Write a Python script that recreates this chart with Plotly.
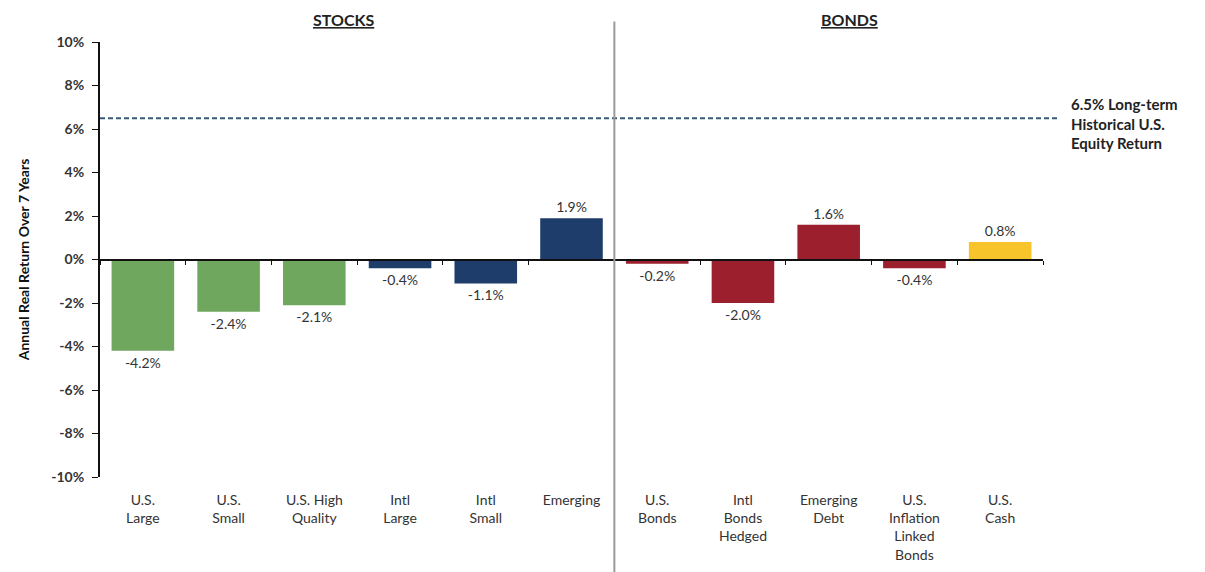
import plotly.graph_objects as go

# Asset classes and their projected annual real returns (%)
categories = [
    "U.S.<br>Large", "U.S.<br>Small", "U.S. High<br>Quality", "Intl<br>Large",
    "Intl<br>Small", "Emerging", "U.S.<br>Bonds", "Intl<br>Bonds<br>Hedged",
    "Emerging<br>Debt", "U.S.<br>Inflation<br>Linked<br>Bonds", "U.S.<br>Cash",
]
returns = [-4.2, -2.4, -2.1, -0.4, -1.1, 1.9, -0.2, -2.0, 1.6, -0.4, 0.8]
groups = ["us_eq", "us_eq", "us_eq", "intl_eq", "intl_eq", "intl_eq",
          "bond", "bond", "bond", "bond", "cash"]
benchmark = 6.5
benchmark_label = "6.5% Long-term<br>Historical U.S.<br>Equity Return"
y_ticks = [-10, -8, -6, -4, -2, 0, 2, 4, 6, 8, 10]

palette = {"us_eq": "#6fa75f", "intl_eq": "#1f3d6b", "bond": "#9b1f2c", "cash": "#f8c42c"}
FONT = "Lato, 'Open Sans', sans-serif"
TXT = "#333333"

x_idx = list(range(len(categories)))

fig = go.Figure()
fig.add_trace(go.Bar(
    x=x_idx,
    y=returns,
    marker=dict(color=[palette[g] for g in groups], line=dict(width=0)),
    width=0.73,
    text=[f"{v:.1f}%" for v in returns],
    textposition="outside",
    textfont=dict(family=FONT, size=14, color=TXT),
    cliponaxis=False,
    showlegend=False,
))

# Invisible helper trace on a second x axis that draws the zero line with boundary ticks
fig.add_trace(go.Scatter(x=categories, y=[None] * len(categories), xaxis="x2",
                         showlegend=False, hoverinfo="skip"))

fig.update_layout(
    width=1205, height=572,
    margin=dict(l=100, r=162, t=42, b=95),
    paper_bgcolor="white", plot_bgcolor="white",
    font=dict(family=FONT, color=TXT),
    bargap=0.27,
    xaxis=dict(
        tickmode="array", tickvals=x_idx, ticktext=categories,
        range=[-0.5, len(categories) - 0.5],
        showgrid=False, zeroline=False, showline=False, ticks="",
        tickfont=dict(family=FONT, size=14, color=TXT),
        ticklabelstandoff=13, automargin=False,
    ),
    xaxis2=dict(
        type="category", overlaying="x", anchor="free", position=0.5,
        range=[-0.5, len(categories) - 0.5],
        showline=True, linecolor="#111111", linewidth=2,
        ticks="outside", tickson="boundaries", ticklen=4, tickcolor="#111111",
        showticklabels=False, showgrid=False, zeroline=False, automargin=False,
    ),
    yaxis=dict(
        range=[-10, 10], tickvals=y_ticks,
        ticktext=[f"{v}%" for v in y_ticks],
        showgrid=False, zeroline=False,
        showline=True, linecolor="#111111", linewidth=2,
        ticks="outside", ticklen=6, tickcolor="#111111",
        ticklabelstandoff=5, automargin=False,
        tickfont=dict(family=FONT, size=14, color=TXT, weight="bold"),
        title=dict(text="<b>Annual Real Return Over 7 Years</b>",
                   font=dict(family=FONT, size=14, color="#111111"), standoff=18),
    ),
)

# Long-term equity benchmark
fig.add_shape(type="line", xref="paper", yref="y", x0=0, x1=1.015,
              y0=benchmark, y1=benchmark,
              line=dict(color="#3a5878", width=2, dash="5px,3px"))
fig.add_annotation(xref="paper", yref="y", x=1.028, y=benchmark + 1.15,
                   xanchor="left", yanchor="top", align="left", showarrow=False,
                   text=f"<b>{benchmark_label}</b>",
                   font=dict(family=FONT, size=15, color="#222222"))

# Divider between stocks and bonds
fig.add_shape(type="line", xref="x", yref="paper", x0=5.5, x1=5.5, y0=-0.22, y1=1.047,
              line=dict(color="#9a9a9a", width=2))

# Section headings
fig.add_annotation(xref="x", yref="paper", x=2.34, y=1.052, yanchor="middle",
                   showarrow=False, text="<b><u>STOCKS</u></b>",
                   font=dict(family=FONT, size=16, color="#222222"))
fig.add_annotation(xref="x", yref="paper", x=8.24, y=1.052, yanchor="middle",
                   showarrow=False, text="<b><u>BONDS</u></b>",
                   font=dict(family=FONT, size=16, color="#222222"))

fig.write_html("out.html")
